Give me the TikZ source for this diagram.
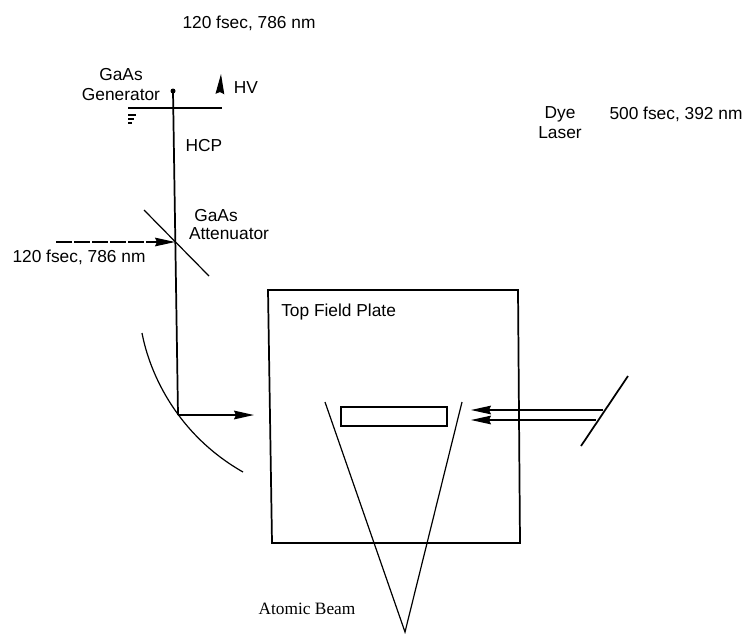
\documentclass[tikz,border=0pt]{standalone}
\usepackage{fontspec}
\setmainfont{Liberation Sans}
\newfontfamily\beamfont{Liberation Serif}
\usetikzlibrary{arrows.meta}
\tikzset{
    label text/.style={font=\fontsize{13}{15}\selectfont, inner sep=0pt, align=center},
    beam/.style={line width=1.3pt},
    thin beam/.style={line width=0.8pt},
    big tip/.style={-{Stealth[length=15pt,width=6.5pt,inset=1.5pt]}}
}
\begin{document}
\begin{tikzpicture}[x=0.75pt, y=-0.75pt]
    \useasboundingbox (0,0) rectangle (748,633);

    % Labels
    \node[label text] (toppulse) at (249,23) {120 fsec, 786 nm};
    \node[label text] (generator) at (121,85) {GaAs\\Generator};
    \node[label text] (hv) at (246,88) {HV};
    \node[label text] (hcp) at (204,146) {HCP};
    \node[label text] (attgaas) at (216,216) {GaAs};
    \node[label text] (attenuator) at (229,234) {Attenuator};
    \node[label text] (sidepulse) at (79,257) {120 fsec, 786 nm};
    \node[label text] (dye) at (560,123) {Dye\\Laser};
    \node[label text] (dyepulse) at (676,114) {500 fsec, 392 nm};
    \node[label text, anchor=west] (plate) at (281,312) {Top Field Plate};
    \node[label text, font=\beamfont\fontsize{13}{15}\selectfont] (atomic) at (307,609) {Atomic Beam};

    % Generator and HCP line
    \coordinate (gentop) at (173,91);
    \coordinate (genleft) at (128,108);
    \coordinate (genright) at (222,108);
    \coordinate (hvbase) at (220,92);
    \coordinate (hvtip) at (221,74);
    \coordinate (focus) at (178,415);
    \fill (gentop) circle (2.5);
    \draw[beam] (gentop) -- (focus);
    \draw[beam] (genleft) -- (genright);
    \draw[big tip, line width=0.8pt] (hvbase) -- (hvtip);
    \draw[thin beam] (128,115) -- (136,115);
    \draw[thin beam] (128,119) -- (134,119);
    \draw[thin beam] (128,123) -- (132,123);

    % Attenuator
    \coordinate (attleft) at (144,210);
    \coordinate (attright) at (209,276);
    \coordinate (attcentre) at (175,242);
    \coordinate (pulsestart) at (56,242);
    \draw[line width=0.9pt] (attleft) -- (attright);
    \draw[thin beam, dash pattern=on 12pt off 1.5pt, big tip] (pulsestart) -- (attcentre);

    % Curved mirror
    \coordinate (mirrortop) at (142,333);
    \coordinate (mirrorend) at (243,472);
    \draw[line width=0.9pt] (mirrortop) .. controls (150,375) and (178,435) .. (mirrorend);
    \coordinate (mirrorout) at (254,415);
    \draw[beam, big tip] (focus) -- (mirrorout);

    % Field plate
    \coordinate (plateA) at (268,290);
    \coordinate (plateB) at (518,290);
    \coordinate (plateC) at (520,543);
    \coordinate (plateD) at (272,543);
    \draw[beam] (plateA) -- (plateB) -- (plateC) -- (plateD) -- cycle;
    \node[draw, line width=1.3pt, minimum width=79.5pt, minimum height=14pt, inner sep=0pt] (slot) at (394,416.5) {};

    % Atomic beam
    \coordinate (apex) at (405,632);
    \coordinate (beamleft) at (325,402);
    \coordinate (beamright) at (462,402);
    \draw[line width=0.9pt] (beamleft) -- (apex) -- (beamright);

    % Dye laser beams
    \coordinate (dyetop) at (628,376);
    \coordinate (dyebottom) at (581,446);
    \coordinate (upperhit) at (603,410);
    \coordinate (lowerhit) at (596,420);
    \coordinate (upperend) at (471,410);
    \coordinate (lowerend) at (471,420);
    \draw[beam] (dyetop) -- (dyebottom);
    \draw[thin beam, big tip] (upperhit) -- (upperend);
    \draw[thin beam, big tip] (lowerhit) -- (lowerend);
\end{tikzpicture}
\end{document}
